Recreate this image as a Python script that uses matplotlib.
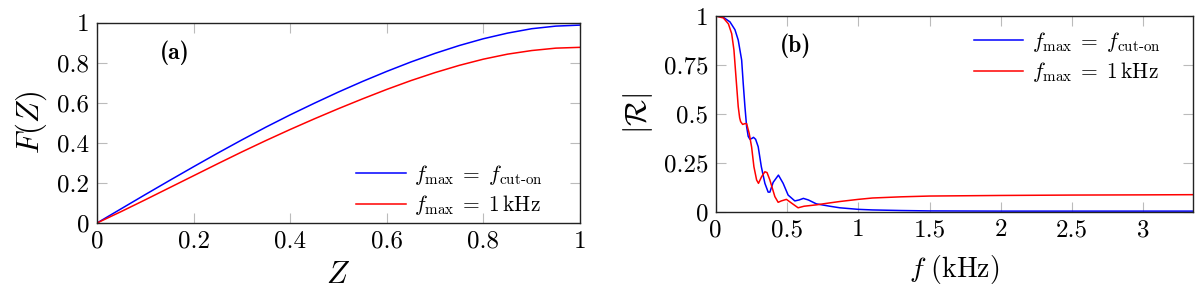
import matplotlib
matplotlib.use("Agg")
import matplotlib.pyplot as plt

plt.rcParams["font.family"] = "serif"
plt.rcParams["font.serif"] = ["cmr10", "DejaVu Serif"]
plt.rcParams["mathtext.fontset"] = "cm"
plt.rcParams["axes.formatter.use_mathtext"] = True

# panel (a): F(Z)
z = [0, 0.05, 0.1, 0.15, 0.2, 0.25, 0.3, 0.35, 0.4, 0.45, 0.5,
     0.55, 0.6, 0.65, 0.7, 0.75, 0.8, 0.85, 0.9, 0.95, 1.0]
F_cut = [0, 0.071, 0.142, 0.212, 0.281, 0.349, 0.415, 0.479, 0.540, 0.598, 0.654,
         0.707, 0.757, 0.804, 0.847, 0.886, 0.920, 0.948, 0.970, 0.983, 0.988]
F_1k = [0, 0.057, 0.116, 0.176, 0.236, 0.296, 0.355, 0.412, 0.467, 0.520, 0.571,
        0.620, 0.667, 0.711, 0.751, 0.787, 0.818, 0.843, 0.861, 0.873, 0.877]

# panel (b): |R| vs f (kHz)
f_cut = [0, 0.05, 0.1, 0.135, 0.158, 0.182, 0.193, 0.205, 0.217, 0.228, 0.24,
         0.255, 0.265, 0.28, 0.298, 0.32, 0.345, 0.368, 0.38, 0.403, 0.44,
         0.473, 0.508, 0.555, 0.585, 0.615, 0.65, 0.706, 0.8, 0.87, 1.0,
         1.1, 1.3, 1.5, 2.0, 2.5, 3.35]
R_cut = [1.0, 0.995, 0.97, 0.93, 0.877, 0.775, 0.656, 0.537, 0.434, 0.385, 0.37,
         0.375, 0.38, 0.37, 0.332, 0.23, 0.145, 0.1, 0.1, 0.15, 0.187,
         0.145, 0.085, 0.055, 0.06, 0.068, 0.06, 0.04, 0.028, 0.02, 0.012,
         0.009, 0.006, 0.004, 0.003, 0.003, 0.003]
f_1k = [0, 0.054, 0.089, 0.112, 0.128, 0.142, 0.158, 0.168, 0.175, 0.189, 0.205,
        0.217, 0.235, 0.252, 0.268, 0.287, 0.3, 0.322, 0.345, 0.36, 0.38,
        0.415, 0.438, 0.46, 0.496, 0.53, 0.578, 0.62, 0.706, 0.8, 0.87,
        1.0, 1.1, 1.3, 1.5, 2.0, 2.5, 3.0, 3.35]
R_1k = [1.0, 0.99, 0.96, 0.91, 0.826, 0.69, 0.537, 0.48, 0.46, 0.446, 0.45,
        0.45, 0.4, 0.33, 0.23, 0.162, 0.145, 0.179, 0.204, 0.2, 0.162,
        0.077, 0.048, 0.055, 0.063, 0.045, 0.02, 0.028, 0.035, 0.045, 0.052,
        0.063, 0.07, 0.076, 0.08, 0.083, 0.085, 0.086, 0.087]

ticks_a = [0, 0.2, 0.4, 0.6, 0.8, 1]
ticklabels_a = ["0", "0.2", "0.4", "0.6", "0.8", "1"]
xticks_b = [0, 0.5, 1, 1.5, 2, 2.5, 3]
xticklabels_b = ["0", "0.5", "1", "1.5", "2", "2.5", "3"]
yticks_b = [0, 0.25, 0.5, 0.75, 1]
yticklabels_b = ["0", "0.25", "0.5", "0.75", "1"]

lab_cut = r"$f_{\mathrm{max}}\;=\;f_{\mathrm{cut\text{-}on}}$"
lab_1k = r"$f_{\mathrm{max}}\;=\;1\,\mathrm{kHz}$"

fig = plt.figure(figsize=(12, 2.93), dpi=100)
W, H = 1200, 293
axA = fig.add_axes([97 / W, (H - 223) / H, 483 / W, 200.3 / H])
axB = fig.add_axes([715.7 / W, (H - 211.7) / H, 477.6 / W, 195.7 / H])


def style(ax):
    ax.tick_params(direction="in", length=7.5, width=0.8, color="#bbbbbb",
                   top=True, right=True, labelsize=18, pad=5.5)
    for s in ax.spines.values():
        s.set_linewidth(1.0)
        s.set_color("#222222")


leg_kw = dict(frameon=False, loc="upper left", borderpad=0, borderaxespad=0,
              handlelength=2.3, handletextpad=0.4, labelspacing=0.3, fontsize=15.5)

# (a)
axA.plot(z, F_cut, color="blue", lw=1.1, label=lab_cut)
axA.plot(z, F_1k, color="red", lw=1.1, label=lab_1k)
axA.set_xlim(0, 1)
axA.set_ylim(0, 1)
axA.set_xticks(ticks_a)
axA.set_xticklabels(ticklabels_a)
axA.set_yticks(ticks_a)
axA.set_yticklabels(ticklabels_a)
axA.set_xlabel(r"$Z$", fontsize=22, labelpad=6)
axA.set_ylabel(r"$F(Z)$", fontsize=22, labelpad=6)
axA.text(0.16, 0.848, "(a)", fontfamily="cmb10", fontsize=17, ha="center", va="center")
axA.legend(bbox_to_anchor=(0.537, 0.30), **leg_kw)
style(axA)

# (b)
axB.plot(f_cut, R_cut, color="blue", lw=1.1, label=lab_cut)
axB.plot(f_1k, R_1k, color="red", lw=1.1, label=lab_1k)
axB.set_xlim(0, 3.35)
axB.set_ylim(0, 1)
axB.set_xticks(xticks_b)
axB.set_xticklabels(xticklabels_b)
axB.set_yticks(yticks_b)
axB.set_yticklabels(yticklabels_b)
axB.set_xlabel(r"$f\ \mathrm{(kHz)}$", fontsize=20, labelpad=8)
axB.set_ylabel(r"$|\mathcal{R}|$", fontsize=22, labelpad=6)
axB.text(0.557, 0.85, "(b)", fontfamily="cmb10", fontsize=17, ha="center", va="center")
axB.legend(bbox_to_anchor=(0.54, 0.93), **leg_kw)
style(axB)

fig.savefig("out.png", dpi=100)
